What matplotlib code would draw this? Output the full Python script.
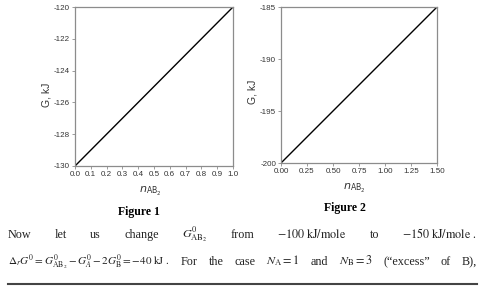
import matplotlib
matplotlib.use("Agg")
import matplotlib.pyplot as plt
import numpy as np

# --- Data ---
n1 = [0.0, 1.0]
g1 = [-130, -120]
n1_ticks = np.round(np.arange(0, 1.01, 0.1), 1)
g1_ticks = [-130, -128, -126, -124, -122, -120]

n2 = [0.0, 1.5]
g2 = [-200, -185]
n2_ticks = [0.0, 0.25, 0.5, 0.75, 1.0, 1.25, 1.5]
g2_ticks = [-200, -195, -190, -185]

line1 = ['Now', 'let', 'us', 'change', r'$G^0_{\mathrm{AB}_2}$', 'from',
         r'$-100\ \mathrm{kJ/mole}$', 'to', r'$-150\ \mathrm{kJ/mole}$ .']
line2 = [r'$\Delta_r G^0 = G^0_{\mathrm{AB}_2} - G^0_A - 2G^0_{\mathrm{B}} = -40\ \mathrm{kJ}$ .',
         'For', 'the', 'case', r'$N_{\mathrm{A}} = 1$', 'and',
         r'$N_{\mathrm{B}} = 3$', '(\u201cexcess\u201d', 'of', 'B),']

W, H = 479, 287
plt.rcParams['mathtext.fontset'] = 'stix'
plt.rcParams['font.family'] = 'Liberation Sans'
plt.rcParams['axes.unicode_minus'] = False

fig = plt.figure(figsize=(W / 100, H / 100), dpi=100)

def px_axes(l, t, r, b):
    return fig.add_axes([l / W, 1 - b / H, (r - l) / W, (b - t) / H])

def style(ax, xt, yt, xfmt, xlim, ylim, ylab_xy, xlab_xy):
    ax.set_xlim(*xlim)
    ax.set_ylim(*ylim)
    ax.set_xticks(xt)
    ax.set_xticklabels([xfmt.format(v) for v in xt])
    ax.set_yticks(yt)
    for s in ax.spines.values():
        s.set_color('#8c8c8c')
        s.set_linewidth(0.9)
    ax.tick_params(length=2, width=0.6, color='#8c8c8c', labelsize=5.8,
                   labelcolor='#333333', pad=1.5)
    ax.set_ylabel('G, kJ', fontsize=7.5, color='#333333')
    ax.yaxis.set_label_coords(*ylab_xy)
    ax.set_xlabel(r'$n_{\mathrm{AB}_2}$', fontsize=8, color='#333333',
                  math_fontfamily='dejavusans')
    ax.xaxis.set_label_coords(*xlab_xy)

ax1 = px_axes(75, 7, 233, 166)
ax1.plot(n1, g1, color='black', lw=1.0)
style(ax1, n1_ticks, g1_ticks, '{:.1f}', (0, 1), (-130, -120), (-0.15, 0.45), (0.475, -0.12))

ax2 = px_axes(281, 7, 437, 163)
ax2.plot(n2, g2, color='black', lw=1.0)
style(ax2, n2_ticks, g2_ticks, '{:.2f}', (0, 1.5), (-200, -185), (-0.15, 0.455), (0.47, -0.12))

serif = 'Liberation Serif'
fig.text(139 / W, 1 - 212 / H, 'Figure 1', family=serif, weight='bold',
         fontsize=8.5, ha='center', va='center')
fig.text(345 / W, 1 - 208 / H, 'Figure 2', family=serif, weight='bold',
         fontsize=8.5, ha='center', va='center')

# justified paragraph lines between x=8 and x=477
renderer = fig.canvas.get_renderer()
x_left, x_right = 8, 477
for y, words in [(238, line1), (265, line2)]:
    texts = [fig.text(0, 1 - y / H, w, family=serif,
                      fontsize=8.0 if w.startswith(r'$\Delta') else 8.7,
                      ha='left', va='baseline', color='#222222') for w in words]
    widths = [t.get_window_extent(renderer).width for t in texts]
    gap = (x_right - x_left - sum(widths)) / (len(words) - 1)
    x = x_left
    for t, w in zip(texts, widths):
        t.set_x(x / W)
        x += w + gap

fig.add_artist(plt.Line2D([8 / W, 477 / W], [1 - 284 / H, 1 - 284 / H],
                          color='#444444', lw=1.5))

fig.savefig('out.png', dpi=100)
